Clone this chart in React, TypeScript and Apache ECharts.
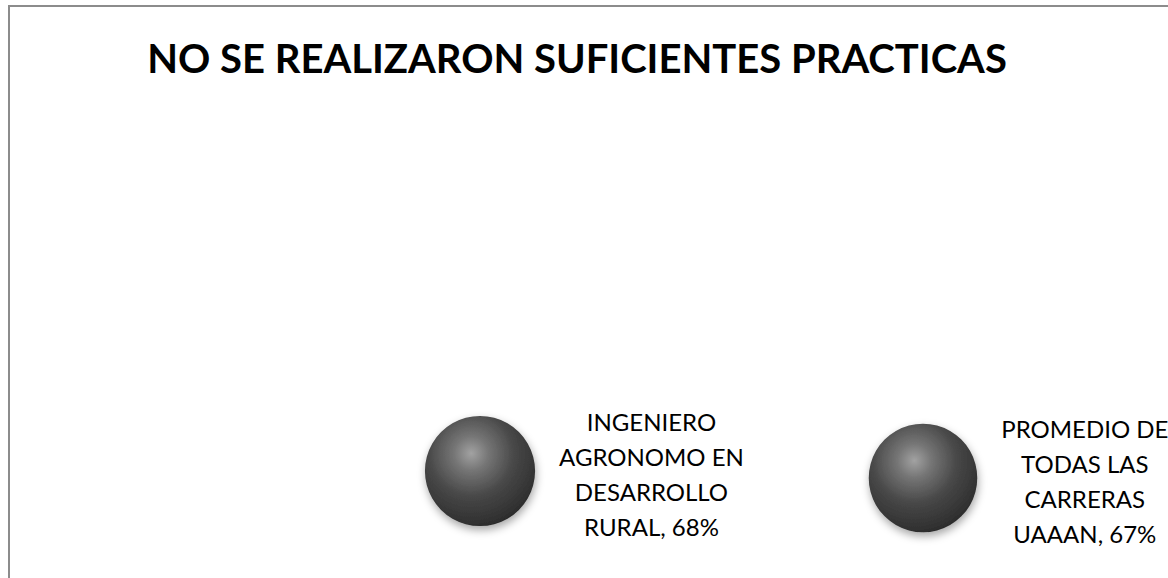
import React, { useEffect, useRef } from "react";
import * as echarts from "echarts";

const TITLE = "NO SE REALIZARON SUFICIENTES PRACTICAS";
const CATEGORIES = ["INGENIERO\nAGRONOMO EN\nDESARROLLO\nRURAL", "PROMEDIO DE\nTODAS LAS\nCARRERAS\nUAAAN"];
const X_VALUES = [1, 2];
const PERCENTS = [68, 67];
const BUBBLE_SIZES = [68, 67];

const LABEL_FONT = 24;
const LABEL_FAMILY = "Lato";

function widestLine(text: string): number {
  const c = document.createElement("canvas");
  const ctx = c.getContext("2d");
  if (!ctx) return 150;
  ctx.font = `${LABEL_FONT}px ${LABEL_FAMILY}`;
  return Math.max(...text.split("\n").map((l) => ctx.measureText(l).width));
}

export default function App() {
  const ref = useRef<HTMLDivElement>(null);

  useEffect(() => {
    if (!ref.current) return;
    const chart = echarts.init(ref.current, null, { renderer: "svg" });

    const sphere = {
      type: "radial",
      x: 0.42,
      y: 0.34,
      r: 0.72,
      colorStops: [
        { offset: 0, color: "#a2a2a2" },
        { offset: 0.22, color: "#757575" },
        { offset: 0.55, color: "#474747" },
        { offset: 0.85, color: "#333333" },
        { offset: 1, color: "#262626" },
      ],
    };

    const data = CATEGORIES.map((name, i) => {
      const fullText = `${name}, ${PERCENTS[i]}%`;
      const w = widestLine(fullText);
      return {
        name,
        value: [X_VALUES[i], PERCENTS[i], BUBBLE_SIZES[i]],
        label: { offset: [w / 2, 3] },
      };
    });

    chart.setOption({
      animation: false,
      backgroundColor: "#ffffff",
      graphic: [
        {
          type: "rect",
          shape: { x: 9, y: 6, width: 1300, height: 800 },
          style: { fill: "none", stroke: "#8c8c8c", lineWidth: 2 },
          silent: true,
        },
        {
          type: "text",
          x: 577,
          y: 58,
          style: {
            text: TITLE,
            fontFamily: "Lato",
            fontWeight: "bold",
            fontSize: 40,
            fill: "#000000",
            align: "center",
            verticalAlign: "middle",
          },
          silent: true,
        },
      ],
      grid: { left: 258.5, width: 886, top: 443, height: 56 },
      xAxis: {
        type: "value",
        min: 0.5,
        max: 2.5,
        show: false,
      },
      yAxis: {
        type: "value",
        min: 64,
        max: 72,
        show: false,
      },
      series: [
        {
          type: "scatter",
          data,
          symbol: "circle",
          symbolSize: (v: number[]) => v[2] * 1.62,
          itemStyle: {
            color: sphere,
            opacity: 1,
            shadowBlur: 8,
            shadowColor: "rgba(0,0,0,0.35)",
            shadowOffsetX: 1,
            shadowOffsetY: 4,
          },
          label: {
            show: true,
            position: "right",
            distance: 24,
            align: "center",
            verticalAlign: "middle",
            formatter: (p: any) => `${p.name}, ${p.value[1]}%`,
            fontFamily: LABEL_FAMILY,
            fontSize: LABEL_FONT,
            lineHeight: 35,
            color: "#000000",
          },
          emphasis: { disabled: true },
          clip: false,
        },
      ],
    });

    return () => chart.dispose();
  }, []);

  return (
    <div
      ref={ref}
      style={{ position: "absolute", left: 0, top: 0, width: 1168, height: 578, background: "#fff" }}
    />
  );
}
